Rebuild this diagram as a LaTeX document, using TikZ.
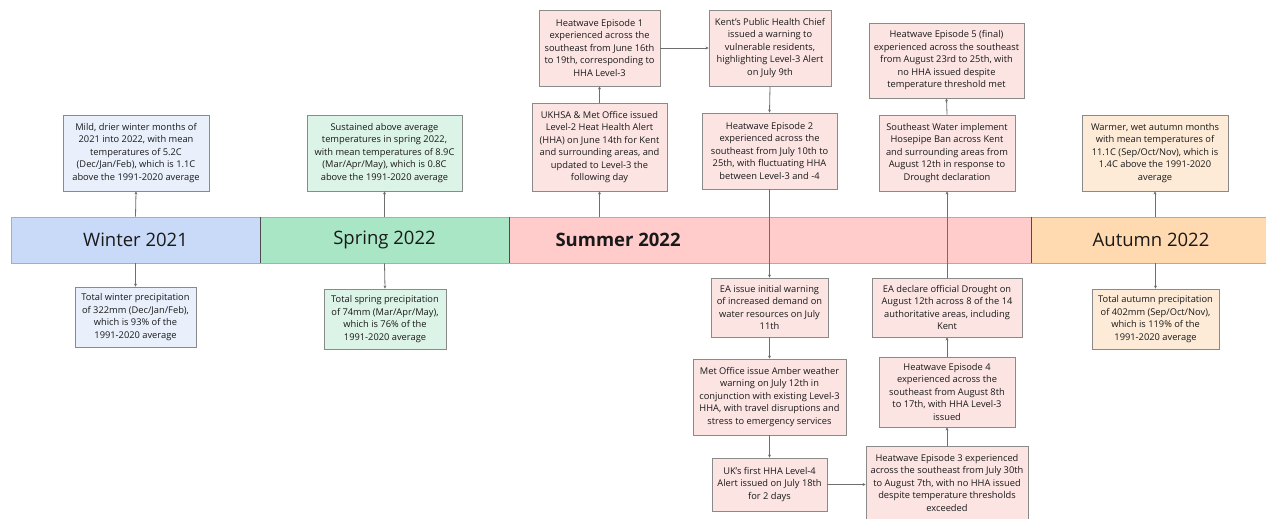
\documentclass[tikz,border=0pt]{standalone}
\usepackage{fontspec}
\setmainfont{Open Sans}
\usetikzlibrary{arrows.meta}
\definecolor{wbar}{HTML}{C9DAF8}
\definecolor{wfill}{HTML}{E9F0FC}
\definecolor{sbar}{HTML}{A9E6C6}
\definecolor{sfill}{HTML}{DCF3E7}
\definecolor{ubar}{HTML}{FFCCCB}
\definecolor{ufill}{HTML}{FCE4E3}
\definecolor{abar}{HTML}{FFD9AF}
\definecolor{afill}{HTML}{FDEBD7}
\definecolor{edge}{HTML}{8A8A8A}
\definecolor{conn}{HTML}{6E6E6E}
\tikzset{
  box/.style={draw=edge, line width=0.9pt, align=center, inner sep=1.5pt,
    font=\fontsize{9.3}{12.5}\selectfont, text=black!90},
  wbox/.style={box, fill=wfill},
  sbox/.style={box, fill=sfill},
  ubox/.style={box, fill=ufill},
  abox/.style={box, fill=afill},
  seg/.style={draw=edge!70, line width=0.6pt, minimum height=46, inner sep=0pt,
    font=\fontsize{18.5}{20}\selectfont, text=black!90},
  arr/.style={draw=conn, line width=0.8pt, -{Stealth[length=3pt,width=3pt]}},
  divider/.style={draw=black!70, line width=1.2pt}
}
\begin{document}
\begin{tikzpicture}[x=1pt,y=-1pt]
\useasboundingbox[fill=white] (0,0) rectangle (1266,519);
% timeline bar
\node[seg, fill=wbar, minimum width=249] (winter) at (135.5,240) {Winter 2021};
\node[seg, fill=sbar, minimum width=249] (spring) at (384.5,240) {Spring 2022};
\node[seg, fill=ubar, minimum width=522] (summer) at (770,240) {};
\node[font=\fontsize{18.5}{20}\selectfont\bfseries, text=black!90, anchor=west] (sumlabel) at (552,240) {Summer 2022};
\node[seg, fill=abar, minimum width=240] (autumn) at (1151,240) {Autumn 2022};
\draw[divider] (winter.north east) -- (winter.south east);
\draw[divider] (spring.north east) -- (spring.south east);
\draw[divider] (summer.north east) -- (summer.south east);

% winter
\node[wbox, minimum width=146, minimum height=76] (w1) at (136,153) {Mild, drier winter months of\\2021 into 2022, with mean\\temperatures of 5.2C\\(Dec/Jan/Feb), which is 1.1C\\above the 1991-2020 average};
\node[wbox, minimum width=121, minimum height=60] (w2) at (135.5,317) {Total winter precipitation\\of 322mm (Dec/Jan/Feb),\\which is 93\% of the\\1991-2020 average};
% spring
\node[sbox, minimum width=155, minimum height=76] (s1) at (384.5,153) {Sustained above average\\temperatures in spring 2022,\\with mean temperatures of 8.9C\\(Mar/Apr/May), which is 0.8C\\above the 1991-2020 average};
\node[sbox, minimum width=122, minimum height=60] (s2) at (385,319) {Total spring precipitation\\of 74mm (Mar/Apr/May),\\which is 76\% of the\\1991-2020 average};
% autumn
\node[abox, minimum width=146, minimum height=76] (a1) at (1155,153) {Warmer, wet autumn months\\with mean temperatures of\\11.1C (Sep/Oct/Nov), which is\\1.4C above the 1991-2020\\average};
\node[abox, minimum width=127, minimum height=60] (a2) at (1155.5,319) {Total autumn precipitation\\of 402mm (Sep/Oct/Nov),\\which is 119\% of the\\1991-2020 average};
% summer top
\node[ubox, minimum width=121, minimum height=76] (he1) at (599.5,48) {Heatwave Episode 1\\experienced across the\\southeast from June 16th\\to 19th, corresponding to\\HHA Level-3};
\node[ubox, minimum width=135, minimum height=88] (ukhsa) at (599.5,147) {UKHSA \& Met Office issued\\Level-2 Heat Health Alert\\(HHA) on June 14th for Kent\\and surrounding areas, and\\updated to Level-3 the\\following day};
\node[ubox, minimum width=122, minimum height=76] (kent) at (770,48) {Kent's Public Health Chief\\issued a warning to\\vulnerable residents,\\highlighting Level-3 Alert\\on July 9th};
\node[ubox, minimum width=135, minimum height=76] (he2) at (769.5,151) {Heatwave Episode 2\\experienced across the\\southeast from July 10th to\\25th, with fluctuating HHA\\between Level-3 and -4};
\node[ubox, minimum width=155, minimum height=75] (he5) at (946.5,60.5) {Heatwave Episode 5 (final)\\experienced across the southeast\\from August 23rd to 25th, with\\no HHA issued despite\\temperature threshold met};
\node[ubox, minimum width=136, minimum height=76] (sw) at (947,153) {Southeast Water implement\\Hosepipe Ban across Kent\\and surrounding areas from\\August 12th in response to\\Drought declaration};
% summer bottom
\node[ubox, minimum width=117, minimum height=59] (ea1) at (769.5,307.5) {EA issue initial warning\\of increased demand on\\water resources on July\\11th};
\node[ubox, minimum width=153, minimum height=76] (met) at (769.5,397) {Met Office issue Amber weather\\warning on July 12th in\\conjunction with existing Level-3\\HHA, with travel disruptions and\\stress to emergency services};
\node[ubox, minimum width=115, minimum height=53] (uk4) at (769.5,484.5) {UK's first HHA Level-4\\Alert issued on July 18th\\for 2 days};
\node[ubox, minimum width=162, minimum height=74] (he3) at (947,483) {Heatwave Episode 3 experienced\\across the southeast from July 30th\\to August 7th, with no HHA issued\\despite temperature thresholds\\exceeded};
\node[ubox, minimum width=136, minimum height=70] (he4) at (947,392) {Heatwave Episode 4\\experienced across the\\southeast from August 8th\\to 17th, with HHA Level-3\\issued};
\node[ubox, minimum width=150, minimum height=59] (ead) at (947,307.5) {EA declare official Drought on\\August 12th across 8 of the 14\\authoritative areas, including\\Kent};

% connectors
\draw[arr] (winter.north) -- (w1.south);
\draw[arr] (winter.south) -- (w2.north);
\draw[arr] (spring.north) -- (s1.south);
\draw[arr] (spring.south) -- (s2.north);
\draw[arr] (a1.south |- autumn.north) -- (a1.south);
\draw[arr] (a2.north |- autumn.south) -- (a2.north);
\draw[arr] (ukhsa.south |- summer.north) -- (ukhsa.south);
\draw[arr] (ukhsa.north) -- (he1.south);
\draw[arr] (he1.east) -- (kent.west);
\draw[arr] (kent.south) -- (he2.north);
\draw[arr] (he2.south) -- (ea1.north);
\draw[arr] (ea1.south) -- (met.north);
\draw[arr] (met.south) -- (uk4.north);
\draw[arr] (uk4.east) -- (uk4.east -| he3.west);
\draw[arr] (he3.north) -- (he4.south);
\draw[arr] (he4.north) -- (ead.south);
\draw[arr] (ead.north) -- (sw.south);
\draw[arr] (sw.north) -- (he5.south);
\end{tikzpicture}
\end{document}
